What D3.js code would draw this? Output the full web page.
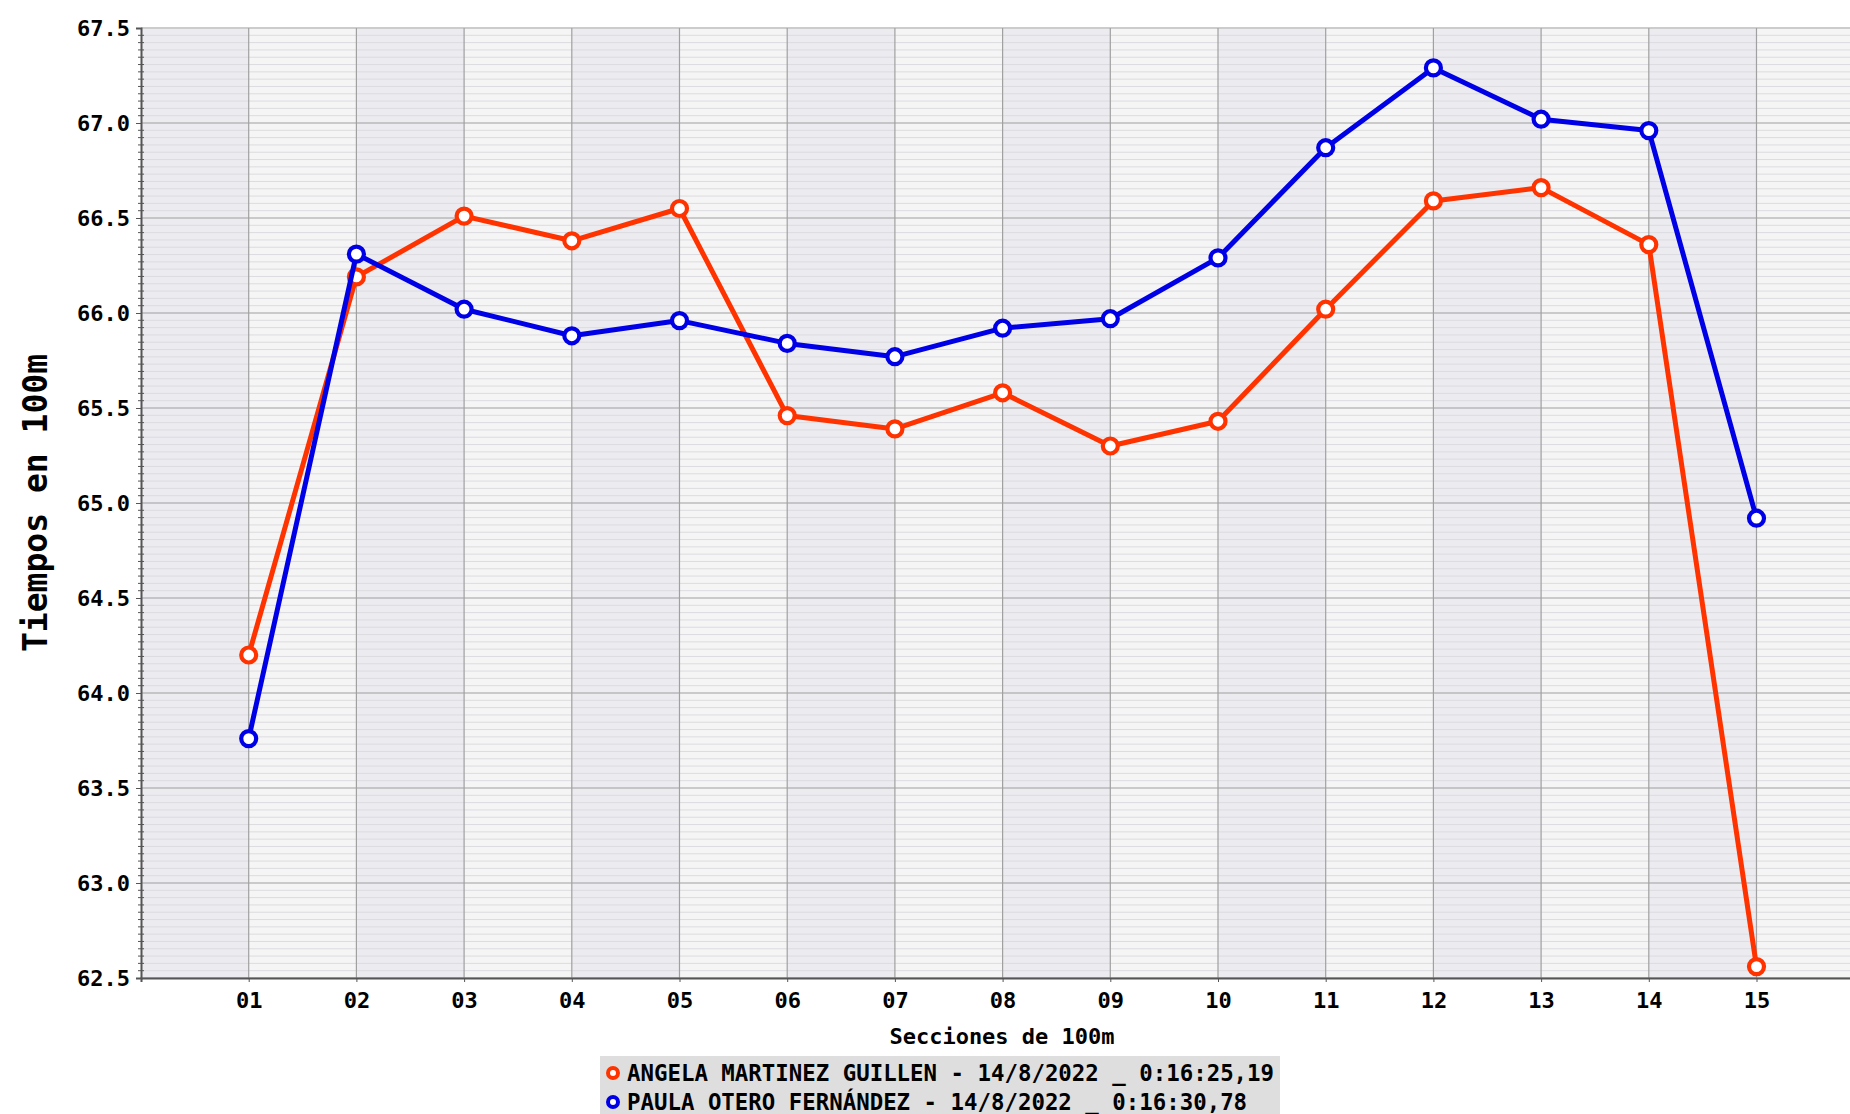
<!DOCTYPE html>
<html>
<head>
<meta charset="utf-8">
<script src="https://cdn.jsdelivr.net/npm/d3@7"></script>
<style>
  html, body { margin: 0; padding: 0; background: #ffffff; }
  svg { display: block; }
  text { font-family: "DejaVu Sans Mono", monospace; font-weight: bold; fill: #000; }
</style>
</head>
<body>
<svg id="chart" width="1850" height="1114"></svg>
<script>
const sections = ["01","02","03","04","05","06","07","08","09","10","11","12","13","14","15"];
const angela = [64.20, 66.19, 66.51, 66.38, 66.55, 65.46, 65.39, 65.58, 65.30, 65.43, 66.02, 66.59, 66.66, 66.36, 62.56];
const paula  = [63.76, 66.31, 66.02, 65.88, 65.96, 65.84, 65.77, 65.92, 65.97, 66.29, 66.87, 67.29, 67.02, 66.96, 64.92];
const yTicks = [62.5, 63.0, 63.5, 64.0, 64.5, 65.0, 65.5, 66.0, 66.5, 67.0, 67.5];
const seriesNames = [
  "ANGELA MARTINEZ GUILLEN - 14/8/2022 _ 0:16:25,19",
  "PAULA OTERO FERNÁNDEZ - 14/8/2022 _ 0:16:30,78"
];
const seriesColors = ["#ff3300", "#0000e6"];
const xTitle = "Secciones de 100m";
const yTitle = "Tiempos en 100m";

(function () {
const svg = d3.select("#chart");
const pLeft = 141, pTop = 28, pBottom = 978, unit = 107.7;
const x = d3.scaleLinear().domain([0, 16]).range([pLeft, pLeft + 16 * unit]);
const y = d3.scaleLinear().domain([62.5, 67.5]).range([pBottom, pTop]);

const plot = svg.append("g");

// alternating vertical bands
plot.selectAll("rect.band").data(d3.range(0, 16)).join("rect")
  .attr("class", "band")
  .attr("x", d => x(d)).attr("y", pTop)
  .attr("width", x(1) - x(0)).attr("height", pBottom - pTop)
  .attr("fill", d => d % 2 === 0 ? "#ebebf0" : "#f5f5f5");

// minor horizontal lines
const minorStep = 0.5 / 13;
const minorVals = [];
for (let k = 0; k < 10; k++) {
  for (let j = 1; j < 13; j++) minorVals.push(62.5 + k * 0.5 + j * minorStep);
}
plot.selectAll("line.minor").data(minorVals).join("line")
  .attr("class", "minor")
  .attr("x1", pLeft).attr("x2", 1850)
  .attr("y1", d => y(d)).attr("y2", d => y(d))
  .attr("stroke", "#dcdce0").attr("stroke-width", 1);

// major horizontal grid
plot.selectAll("line.hgrid").data(yTicks).join("line")
  .attr("class", "hgrid")
  .attr("x1", pLeft).attr("x2", 1850)
  .attr("y1", d => y(d)).attr("y2", d => y(d))
  .attr("stroke", d => d === 67.5 ? "#cccccc" : "#a0a0a0").attr("stroke-width", d => d === 67.5 ? 2 : 1.2);

// vertical grid
plot.selectAll("line.vgrid").data(sections.map((s, i) => i + 1)).join("line")
  .attr("class", "vgrid")
  .attr("x1", d => x(d)).attr("x2", d => x(d))
  .attr("y1", pTop).attr("y2", pBottom)
  .attr("stroke", "#a0a0a0").attr("stroke-width", 1.2);

// y axis minor ticks
plot.selectAll("line.ytickminor").data(minorVals).join("line")
  .attr("class", "ytickminor")
  .attr("x1", pLeft - 3).attr("x2", pLeft + 3)
  .attr("y1", d => y(d)).attr("y2", d => y(d))
  .attr("stroke", "#555").attr("stroke-width", 1);
const yAxis = d3.axisLeft(y).tickValues(yTicks).tickFormat(d3.format(".1f")).tickSize(5).tickPadding(6);
const yg = svg.append("g").attr("transform", `translate(${pLeft},0)`).call(yAxis);
yg.select(".domain").attr("stroke", "#555").attr("stroke-width", 2);
yg.selectAll(".tick line").attr("stroke", "#555");
yg.selectAll(".tick text").style("font-size", "22px").style("font-family", "DejaVu Sans Mono").style("font-weight", "bold").attr("fill", "#000");

// x axis
const xAxis = d3.axisBottom(x).tickValues(sections.map((s, i) => i + 1))
  .tickFormat((d, i) => sections[i]).tickSize(4).tickPadding(10);
const xg = svg.append("g").attr("transform", `translate(0,${pBottom})`).call(xAxis);
xg.select(".domain").attr("stroke", "#555").attr("stroke-width", 2);
xg.selectAll(".tick line").attr("stroke", "#555");
xg.selectAll(".tick text").style("font-size", "22px").style("font-family", "DejaVu Sans Mono").style("font-weight", "bold").attr("fill", "#000");

// series
const line = d3.line().x((d, i) => x(i + 1)).y(d => y(d));
[angela, paula].forEach((vals, si) => {
  const g = svg.append("g");
  g.append("path").datum(vals).attr("d", line)
    .attr("fill", "none").attr("stroke", seriesColors[si]).attr("stroke-width", 5)
    .attr("stroke-linejoin", "round");
  g.selectAll("circle").data(vals).join("circle")
    .attr("cx", (d, i) => x(i + 1)).attr("cy", d => y(d)).attr("r", 7.5)
    .attr("fill", "#fff").attr("stroke", seriesColors[si]).attr("stroke-width", 4.2);
});

// axis titles
svg.append("text").attr("x", 1002).attr("y", 1044).attr("text-anchor", "middle")
  .style("font-size", "22px").text(xTitle);
svg.append("text").attr("transform", `translate(47,${(pTop + pBottom) / 2}) rotate(-90)`)
  .attr("text-anchor", "middle").style("font-size", "33px").text(yTitle);

// legend
const lg = svg.append("g");
lg.append("rect").attr("x", 600).attr("y", 1056).attr("width", 680).attr("height", 70).attr("fill", "#dedede");
seriesNames.forEach((name, i) => {
  const cy = 1073 + i * 29;
  lg.append("circle").attr("cx", 613).attr("cy", cy).attr("r", 5)
    .attr("fill", "#fff").attr("stroke", seriesColors[i]).attr("stroke-width", 4);
  lg.append("text").attr("x", 627).attr("y", cy + 8).style("font-size", "22.4px").text(name);
});
})();
</script>
</body>
</html>
